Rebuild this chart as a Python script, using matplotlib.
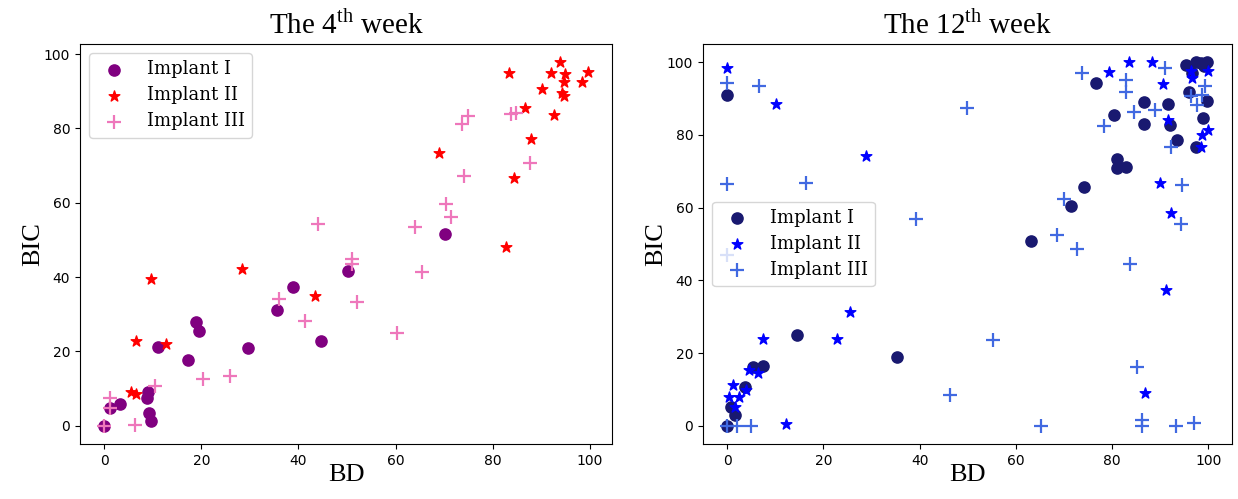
import matplotlib
matplotlib.use("Agg")
import matplotlib.pyplot as plt

plt.rcParams['mathtext.fontset'] = 'custom'
plt.rcParams['mathtext.rm'] = 'Liberation Serif'

# ---- 4th week data ----
w4_I_bd = [0, 1.1, 3.3, 8.8, 9.1, 9.2, 9.7, 11.0, 17.2, 19.0, 19.6, 29.6, 35.6, 38.8, 44.6, 50.2, 70.2]
w4_I_bic = [0, 4.7, 6.0, 7.4, 9.2, 3.5, 1.3, 21.3, 17.8, 27.8, 25.4, 20.8, 31.1, 37.3, 22.7, 41.6, 51.7]

w4_II_bd = [5.5, 6.6, 6.5, 9.7, 12.7, 28.4, 43.5, 68.9, 82.8, 84.5, 83.4, 86.7, 88.0, 90.2, 92.1,
            92.6, 93.9, 94.3, 94.6, 94.6, 94.9, 98.5, 99.6]
w4_II_bic = [9.2, 8.5, 22.7, 39.6, 22.0, 42.3, 35.0, 73.5, 48.1, 66.6, 95.0, 85.4, 77.1, 90.7, 94.9,
             83.7, 97.8, 89.4, 88.8, 92.6, 94.7, 92.6, 95.1]

w4_III_bd = [0, 1.2, 1.1, 6.4, 10.5, 20.3, 25.9, 36.0, 41.3, 44.0, 51.1, 51.1, 52.1, 60.3, 64.1,
             65.4, 70.4, 71.5, 74.0, 73.7, 75.0, 83.8, 84.8, 87.6]
w4_III_bic = [0, 7.4, 4.7, 0.1, 10.7, 12.7, 13.5, 34.0, 28.3, 54.2, 44.8, 43.4, 33.3, 24.9, 53.6,
              41.4, 59.6, 56.2, 67.3, 81.2, 83.4, 83.9, 84.1, 70.8]

# ---- 12th week data ----
w12_I_bd = [0, 0, 0.8, 1.65, 3.7, 5.4, 7.5, 14.5, 35.4, 63.2, 71.4, 74.1, 76.6, 80.4, 81.0, 81.0,
            82.9, 86.6, 86.6, 91.5, 92.0, 93.5, 95.3, 95.9, 96.5, 97.4, 97.5, 98.4, 98.9, 99.1, 99.7, 99.8]
w12_I_bic = [0, 90.9, 5.1, 3.0, 10.8, 16.3, 16.4, 25.1, 18.9, 50.7, 60.5, 65.8, 94.4, 85.5, 73.4, 70.8,
             71.3, 89.1, 82.9, 88.6, 82.6, 78.7, 99.2, 91.9, 97.1, 76.8, 100, 99.9, 84.6, 99, 89.2, 100]

w12_II_bd = [0, 0.5, 1.3, 1.7, 2.5, 4.0, 4.6, 6.5, 7.5, 10.1, 12.2, 22.8, 25.6, 28.8, 79.3, 83.5,
             86.9, 88.2, 89.9, 90.6, 91.2, 91.7, 92.2, 96.3, 96.5, 98.4, 98.7, 99.9, 99.9]
w12_II_bic = [98.5, 7.8, 11.3, 5.3, 8.0, 9.9, 15.4, 14.5, 24.0, 88.6, 0.4, 24.0, 31.4, 74.2, 97.2, 100,
              8.9, 100, 66.8, 93.9, 37.4, 84.2, 58.4, 97.6, 95.6, 76.6, 80.1, 81.4, 97.6]

w12_III_bd = [0, 0, 0, 0, 2.1, 4.9, 6.6, 16.3, 39.2, 46.4, 49.9, 55.2, 65.3, 68.5, 70.0, 72.7, 73.8,
              78.4, 82.8, 82.9, 83.7, 84.6, 85.1, 86.2, 86.2, 88.9, 91.0, 92.2, 93.3, 94.2, 94.5, 96.3,
              97.1, 97.6, 98.6, 99.2]
w12_III_bic = [0, 94.4, 66.4, 47.0, 0, 0, 93.4, 66.7, 56.8, 8.4, 87.5, 23.5, 0, 52.5, 62.5, 48.5, 97.0,
               82.4, 91.8, 95.2, 44.6, 86.3, 16.3, 1.7, 0, 86.9, 98.3, 76.8, 0, 55.6, 66.2, 90.7,
               0.9, 88.2, 91.1, 93.4]

labels = ['Implant I', 'Implant II', 'Implant III']

fig = plt.figure(figsize=(12.38, 4.99), dpi=100)
ax1 = fig.add_axes([80/1238, 1-444/499, (612-80)/1238, 400/499])
ax2 = fig.add_axes([703/1238, 1-444/499, (1232-703)/1238, 400/499])

serif = 'Liberation Serif'

def draw(ax, data, colors, title, legend_kw):
    (bd1, bic1), (bd2, bic2), (bd3, bic3) = data
    ax.scatter(bd1, bic1, s=65, marker='o', color=colors[0], label=labels[0], zorder=2)
    ax.scatter(bd2, bic2, s=65, marker='*', color=colors[1], label=labels[1], zorder=3)
    ax.scatter(bd3, bic3, s=90, marker='+', color=colors[2], linewidths=1.6, label=labels[2], zorder=4)
    ax.set_title(title, family=serif, fontsize=21, pad=7)
    ax.set_xlabel('BD', family=serif, fontsize=19, labelpad=-3)
    ax.set_ylabel('BIC', family=serif, fontsize=19, labelpad=0)
    ax.set_xticks([0, 20, 40, 60, 80, 100])
    ax.tick_params(labelsize=10)
    ax.legend(prop={'family': 'DejaVu Serif', 'size': 13}, scatterpoints=1,
              labelspacing=0.45, **legend_kw)

draw(ax1, [(w4_I_bd, w4_I_bic), (w4_II_bd, w4_II_bic), (w4_III_bd, w4_III_bic)],
     ['purple', 'red', '#ee77bb'], r'The 4$^{\rm th}$ week', dict(loc='upper left'))
draw(ax2, [(w12_I_bd, w12_I_bic), (w12_II_bd, w12_II_bic), (w12_III_bd, w12_III_bic)],
     ['midnightblue', 'blue', 'royalblue'], r'The 12$^{\rm th}$ week', dict(loc='center left'))

fig.savefig('out.png', dpi=100)
